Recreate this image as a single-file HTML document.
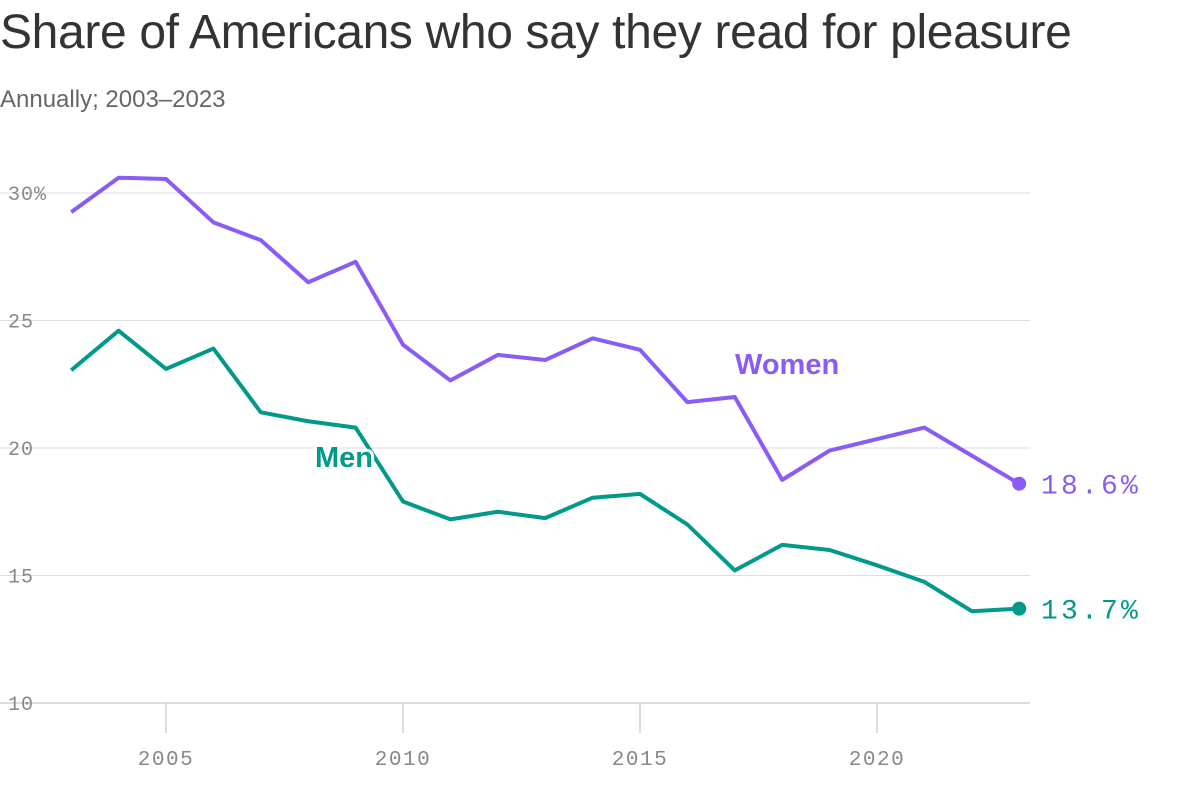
<!DOCTYPE html>
<html><head><meta charset="utf-8"><style>
body{margin:0;background:#fff;width:1200px;height:812px;overflow:hidden;font-family:"Liberation Sans",sans-serif}
h1{position:absolute;left:0;top:5px;margin:0;font-weight:400;font-size:48px;color:#333;letter-spacing:-0.35px;white-space:nowrap}
.sub{position:absolute;left:0;top:86px;font-size:24px;color:#666;letter-spacing:0px}
svg{position:absolute;left:0;top:0}
</style></head><body>
<h1>Share of Americans who say they read for pleasure</h1>
<div class="sub">Annually; 2003–2023</div>
<svg id="c" width="1200" height="812"></svg>
<script>
const years=[2003,2004,2005,2006,2007,2008,2009,2010,2011,2012,2013,2014,2015,2016,2017,2018,2019,2020,2021,2022,2023];
const women=[29.25,30.6,30.55,28.85,28.15,26.5,27.3,24.05,22.65,23.65,23.45,24.3,23.85,21.8,22.0,18.75,19.9,20.35,20.8,19.7,18.6];
const men=[23.05,24.6,23.1,23.9,21.4,21.05,20.8,17.9,17.2,17.5,17.25,18.05,18.2,17.0,15.2,16.2,16.0,15.4,14.75,13.6,13.7];
const yTicks=[10,15,20,25,30];
const xTicks=[2005,2010,2015,2020];
const x=v=>166+(v-2005)*47.4;
const y=v=>703-(v-10)*25.5;
const s=document.getElementById('c');const NS='http://www.w3.org/2000/svg';
function mk(t,a,txt){const e=document.createElementNS(NS,t);for(const k in a)e.setAttribute(k,a[k]);if(txt!=null)e.textContent=txt;s.appendChild(e);return e;}
yTicks.forEach(t=>{
 const l=mk('line',{x1:0,x2:1030,y1:y(t),y2:y(t),stroke:t===10?'#bbb':'#ddd','stroke-width':1});
 
 
 const tx=mk('text',{x:8,y:y(t)+7,'font-family':'Liberation Mono, monospace','font-size':20,'letter-spacing':1,fill:'#888'},t===30?'30%':String(t));
 
 
});
xTicks.forEach(t=>{
 const l=mk('line',{x1:x(t),x2:x(t),y1:703,y2:733,stroke:'#bbb','stroke-width':1});
 
 
 const tx=mk('text',{x:x(t),y:765,'text-anchor':'middle','font-family':'Liberation Mono, monospace','font-size':21,'letter-spacing':1.5,fill:'#888'},String(t));
 
 
});
function series(d,c,name){
 const p=mk('polyline',{points:d.map((v,i)=>x(years[i])+','+y(v)).join(' '),fill:'none',stroke:c,'stroke-width':4,'stroke-linejoin':'round'});
 
 
 const last=d[d.length-1];
 const dot=mk('circle',{cx:x(years[years.length-1]),cy:y(last),r:7,fill:c});
 
 
 const t=mk('text',{x:1041,y:y(last)+10,'font-family':'Liberation Mono, monospace','font-size':28,'letter-spacing':3.2,fill:c},last.toFixed(1)+'%');
 
 
}
series(women,'#8a5cf6','women');
series(men,'#00998a','men');
const wl=mk('text',{x:735,y:374,'font-size':29,'font-weight':'bold',fill:'#8a5cf6'},'Women');


const ml=mk('text',{x:315,y:467,'font-size':29,'font-weight':'bold',fill:'#00998a',stroke:'#fff','stroke-width':6,'paint-order':'stroke'},'Men');


</script>
</body></html>
